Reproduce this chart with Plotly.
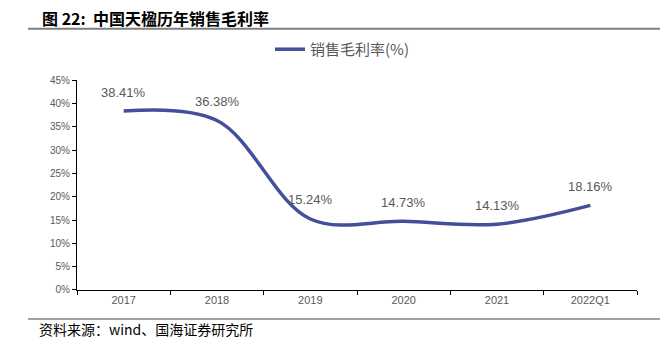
import plotly.graph_objects as go

categories = ["2017", "2018", "2019", "2020", "2021", "2022Q1"]
gross_margin = [38.41, 36.38, 15.24, 14.73, 14.13, 18.16]
y_ticks = [0, 5, 10, 15, 20, 25, 30, 35, 40, 45]
y_tick_labels = [f"{v}%" for v in y_ticks]

LINE_COLOR = "#434f98"
CJK = "Noto Sans CJK SC"

W, H = 661, 352
# plot area in pixels
PL, PR, PT, PB = 77, 637, 77, 294


def px_x(x):
    return x / W


def px_y(y):
    return 1 - y / H


fig = go.Figure()
fig.add_trace(go.Scatter(
    x=categories, y=gross_margin, mode="lines", name="销售毛利率(%)",
    line=dict(color=LINE_COLOR, width=3.5, shape="spline", smoothing=1.0),
))

annotations = [
    dict(x=i, y=v, xref="x", yref="y", text=f"{v:.2f}%", showarrow=False,
         yshift=19, font=dict(family="Liberation Sans, Arial", size=13, color="#595959"))
    for i, v in enumerate(gross_margin)
]
annotations.append(dict(
    x=px_x(37), y=px_y(334), xref="paper", yref="paper", xanchor="left", yanchor="middle",
    text="资料来源：wind、国海证券研究所", showarrow=False,
    font=dict(family=CJK, size=14, color="#000000"),
))
annotations.append(dict(
    x=px_x(40), y=px_y(12), xref="paper", yref="paper", xanchor="left", yanchor="middle",
    text="<b>图 22:  中国天楹历年销售毛利率</b>", showarrow=False,
    font=dict(family=CJK, size=16, color="#000000"),
))

fig.update_layout(
    width=W, height=H, autosize=False,
    margin=dict(l=0, r=0, t=0, b=0),
    paper_bgcolor="white", plot_bgcolor="white",
    showlegend=True,
    legend=dict(orientation="h", x=px_x(270), xanchor="left", y=px_y(45), yanchor="middle",
                font=dict(family=CJK, size=15, color="#595959"),
                bgcolor="rgba(0,0,0,0)"),
    xaxis=dict(type="category", domain=[px_x(PL), px_x(PR)], showgrid=False, showline=True,
               linecolor="#000000", linewidth=1,
               ticks="outside", ticklen=4, tickcolor="#000000", tickson="boundaries",
               tickfont=dict(family="Liberation Sans, Arial", size=11, color="#595959"),
               range=[-0.5, len(categories) - 0.5]),
    yaxis=dict(range=[0, 45], domain=[px_y(PB), px_y(PT)], tickvals=y_ticks,
               ticktext=y_tick_labels, showgrid=False,
               showline=True, linecolor="#000000", linewidth=1, ticks="outside", ticklen=4,
               tickcolor="#000000", zeroline=False,
               tickfont=dict(family="Liberation Sans, Arial", size=10, color="#595959")),
    annotations=annotations,
    shapes=[
        dict(type="line", xref="paper", yref="paper", x0=px_x(28), x1=px_x(660),
             y0=px_y(23.5), y1=px_y(23.5), line=dict(color="#7f7f7f", width=2), layer="above"),
        dict(type="line", xref="paper", yref="paper", x0=px_x(28), x1=px_x(660),
             y0=px_y(324), y1=px_y(324), line=dict(color="#7f7f7f", width=1.5), layer="above"),
    ],
)

fig.write_html("out.html", config={"displayModeBar": False})
